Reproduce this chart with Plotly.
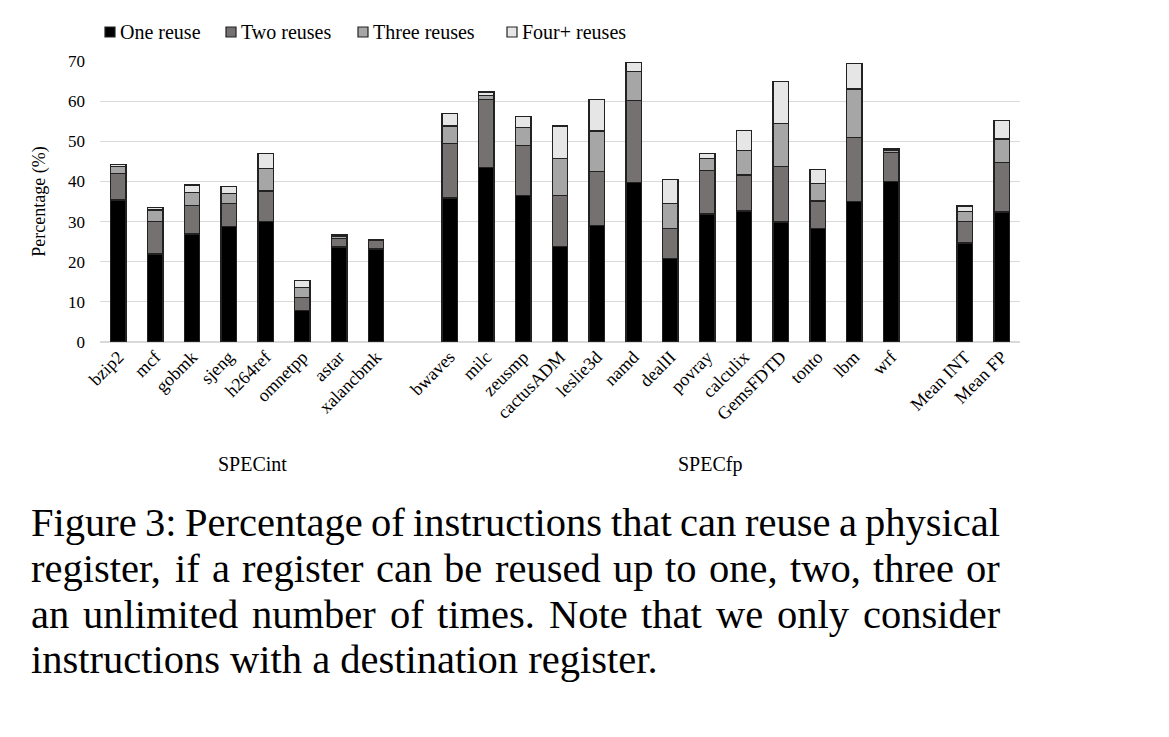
import plotly.graph_objects as go

# ---- data ----
int_names = ["bzip2", "mcf", "gobmk", "sjeng", "h264ref", "omnetpp", "astar", "xalancbmk"]
fp_names = ["bwaves", "milc", "zeusmp", "cactusADM", "leslie3d", "namd", "dealII",
            "povray", "calculix", "GemsFDTD", "tonto", "lbm", "wrf"]
mean_names = ["Mean INT", "Mean FP"]

one_int = [35.4, 21.9, 26.9, 28.7, 30.1, 7.8, 23.7, 23.2]
two_int = [6.5, 8.1, 7.1, 5.8, 7.5, 3.3, 2.0, 2.1]
three_int = [1.8, 2.9, 3.2, 2.5, 5.6, 2.4, 0.7, 0.2]
four_int = [0.5, 0.6, 1.9, 1.7, 3.8, 1.8, 0.4, 0.1]

one_fp = [35.9, 43.5, 36.5, 23.8, 29.0, 39.7, 20.8, 31.9, 32.6, 29.9, 28.2, 35.0, 39.9]
two_fp = [13.5, 16.9, 12.4, 12.7, 13.4, 20.4, 7.4, 10.8, 9.0, 13.8, 6.9, 15.9, 7.3]
three_fp = [4.4, 1.0, 4.6, 9.3, 10.2, 7.2, 6.3, 3.0, 6.1, 10.8, 4.4, 12.1, 0.5]
four_fp = [3.1, 0.9, 2.7, 8.0, 7.8, 2.4, 5.9, 1.3, 5.0, 10.4, 3.5, 6.3, 0.4]

one_mean = [24.7, 32.4]
two_mean = [5.3, 12.3]
three_mean = [2.5, 5.9]
four_mean = [1.4, 4.5]

series_names = ["One reuse", "Two reuses", "Three reuses", "Four+ reuses"]
series_colors = ["#000000", "#767171", "#a6a6a6", "#e7e6e6"]
y_ticks = [0, 10, 20, 30, 40, 50, 60, 70]
group_labels = ["SPECint", "SPECfp"]
caption_lines = [
    "Figure 3: Percentage of instructions that can reuse a physical",
    "register, if a register can be reused up to one, two, three or",
    "an unlimited number of times. Note that we only consider",
    "instructions with a destination register.",
]

# categories with blank spacer slots between groups
gap1, gap2 = "\u2009", "\u2009\u2009"
cats = int_names + [gap1] + fp_names + [gap2] + mean_names

def build(a, b, c):
    return a + [None] + b + [None] + c

series_vals = [
    build(one_int, one_fp, one_mean),
    build(two_int, two_fp, two_mean),
    build(three_int, three_fp, three_mean),
    build(four_int, four_fp, four_mean),
]

W, H = 1169, 737
L, R, T, B = 100, 149, 61, 395
pw, ph = W - L - R, H - T - B

def px2x(px):
    return (px - L) / pw

def px2y(py):
    return (H - B - py) / ph

serif = "Liberation Serif"

# Times / Liberation Serif advance widths (per 1000 em) for justification
ADV = {
    'a': 444, 'b': 500, 'c': 444, 'd': 500, 'e': 444, 'f': 333, 'g': 500, 'h': 500,
    'i': 278, 'j': 278, 'k': 500, 'l': 278, 'm': 778, 'n': 500, 'o': 500, 'p': 500,
    'q': 500, 'r': 333, 's': 389, 't': 278, 'u': 500, 'v': 500, 'w': 722, 'x': 500,
    'y': 500, 'z': 444, 'F': 556, 'N': 722, 'P': 556, ':': 278, ',': 250, '.': 250,
    ' ': 250,
}

def text_w(s, size):
    return sum(ADV.get(ch, 500) for ch in s) * size / 1000.0

fig = go.Figure()
for name, col, vals in zip(series_names, series_colors, series_vals):
    fig.add_trace(go.Bar(
        x=cats, y=vals, name=name,
        marker=dict(color=col, line=dict(color="#222222", width=1.3)),
        width=0.42, showlegend=False,
    ))

fig.update_layout(
    width=W, height=H,
    margin=dict(l=L, r=R, t=T, b=B, pad=0),
    barmode="stack",
    paper_bgcolor="white", plot_bgcolor="white",
    font=dict(family=serif, size=17, color="#000000"),
    showlegend=False,
    xaxis=dict(type="category", categoryorder="array", categoryarray=cats,
               tickangle=-45, showgrid=False, ticks="", showline=False,
               tickfont=dict(family=serif, size=18)),
    yaxis=dict(range=[0, 70], tickvals=y_ticks, showgrid=True,
               gridcolor="#d9d9d9", gridwidth=1, zeroline=True,
               zerolinecolor="#d9d9d9", zerolinewidth=1.5, ticks="",
               ticklabelstandoff=14,
               tickfont=dict(family=serif, size=17),
               title=dict(text="Percentage (%)", font=dict(family=serif, size=18),
                          standoff=17)),
)

# legend (drawn manually to match the compact LaTeX-style legend)
leg_x = [105, 226, 358, 507]
leg_y = 32
for name, col, lx in zip(series_names, series_colors, leg_x):
    fig.add_shape(type="rect", xref="paper", yref="paper",
                  x0=px2x(lx), x1=px2x(lx + 10), y0=px2y(leg_y + 5), y1=px2y(leg_y - 5),
                  fillcolor=col, line=dict(color="#222222", width=1.2))
    fig.add_annotation(text=name, xref="paper", yref="paper",
                       x=px2x(lx + 14), y=px2y(leg_y), showarrow=False,
                       xanchor="left", yanchor="middle", borderpad=0,
                       font=dict(family=serif, size=20))

fig.add_annotation(text=group_labels[0], xref="paper", yref="paper",
                   x=px2x(252), y=px2y(464), showarrow=False,
                   xanchor="center", yanchor="middle",
                   font=dict(family=serif, size=20))
fig.add_annotation(text=group_labels[1], xref="paper", yref="paper",
                   x=px2x(710), y=px2y(464), showarrow=False,
                   xanchor="center", yanchor="middle",
                   font=dict(family=serif, size=20))

# caption, justified between x=30 and x=999
cap_size = 40.5
cap_left, cap_right = 30, 999
line_y = [522, 568, 614, 660]
for li, (txt, ly) in enumerate(zip(caption_lines, line_y)):
    if li == len(caption_lines) - 1:
        fig.add_annotation(text=txt, xref="paper", yref="paper",
                           x=px2x(cap_left), y=px2y(ly), showarrow=False,
                           xanchor="left", yanchor="middle", borderpad=0,
                           font=dict(family=serif, size=cap_size, color="#000000"))
        continue
    words = txt.split(" ")
    widths = [text_w(w, cap_size) for w in words]
    gap = (cap_right - cap_left - sum(widths)) / (len(words) - 1)
    x = cap_left
    for w, ww in zip(words, widths):
        fig.add_annotation(text=w, xref="paper", yref="paper",
                           x=px2x(x), y=px2y(ly), showarrow=False,
                           xanchor="left", yanchor="middle", borderpad=0,
                           font=dict(family=serif, size=cap_size, color="#000000"))
        x += ww + gap

fig.write_html("out.html")
